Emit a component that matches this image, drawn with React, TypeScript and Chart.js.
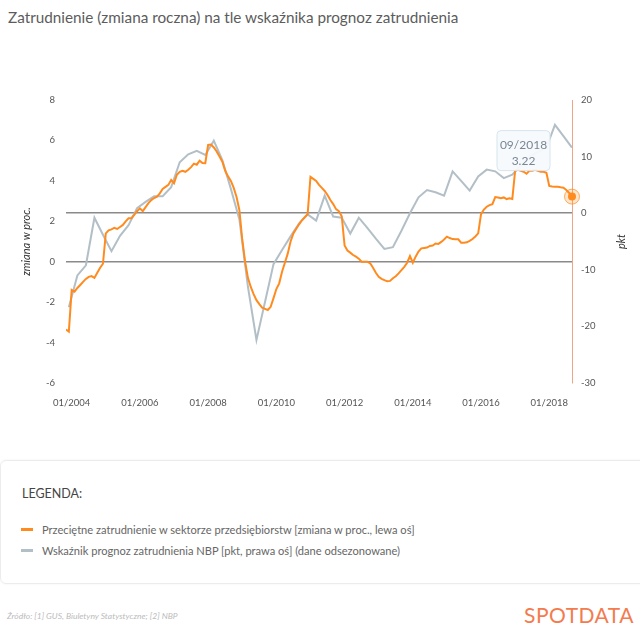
import React, { useEffect, useRef } from 'react';
import { Chart, registerables, Plugin } from 'chart.js';

Chart.register(...registerables);

// miesiące liczone od 01/2004 (0 = 01/2004)
const employmentStart = -2; // 11/2003, dane miesięczne
const employmentChange = [
  -3.35, -3.46,
  -1.4, -1.48, -1.3, -1.15, -1.0, -0.85, -0.75, -0.71, -0.8, -0.55, -0.3, -0.1,
  1.4, 1.55, 1.6, 1.68, 1.62, 1.72, 1.82, 2.0, 2.15, 2.15, 2.32, 2.5,
  2.64, 2.5, 2.7, 2.9, 3.05, 3.15, 3.22, 3.38, 3.6, 3.7, 3.8, 4.04,
  3.88, 4.3, 4.45, 4.5, 4.45, 4.55, 4.68, 4.85, 4.8, 5.0, 4.88, 4.87,
  5.78, 5.8, 5.65, 5.45, 5.2, 4.95, 4.5, 4.22, 4.0, 3.65, 3.2, 2.55,
  1.1, 0.0, -0.8, -1.25, -1.6, -1.9, -2.1, -2.27, -2.33, -2.39, -2.23, -1.8,
  -1.35, -1.07, -0.5, -0.05, 0.4, 1.0, 1.4, 1.63, 1.85, 2.05, 2.2, 2.35,
  4.2, 4.1, 4.0, 3.8, 3.65, 3.5, 3.3, 3.05, 2.85, 2.6, 2.5, 2.25,
  0.8, 0.55, 0.45, 0.33, 0.25, 0.15, 0.0, 0.0, 0.0, -0.08, -0.3, -0.55,
  -0.75, -0.85, -0.91, -0.97, -0.95, -0.82, -0.72, -0.58, -0.42, -0.25, -0.05, 0.28,
  -0.05, 0.25, 0.5, 0.66, 0.68, 0.7, 0.78, 0.8, 0.9, 0.88, 0.98, 1.1,
  1.24, 1.17, 1.12, 1.11, 1.11, 0.94, 0.94, 0.96, 1.03, 1.12, 1.25, 1.4,
  2.35, 2.58, 2.72, 2.8, 2.85, 3.2, 3.18, 3.14, 3.18, 3.1, 3.14, 3.1,
  4.5, 4.55, 4.5, 4.45, 4.35, 4.5, 4.5, 4.55, 4.5, 4.45, 4.45, 4.4,
  3.75, 3.72, 3.71, 3.71, 3.68, 3.66, 3.55, 3.4, 3.22,
];

const forecastStart = -1; // 12/2003, dane kwartalne
const forecastStep = 3;
const forecastIndex = [
  -16.6, -11.0, -9.2, -0.8, -3.8, -6.7, -4.0, -2.1, 0.9, 2.0,
  3.0, 3.0, 4.6, 9.0, 10.4, 11.0, 10.3, 12.8, 9.4, 4.3,
  -1.1, -13.0, -22.4, -15.7, -9.0, -6.5, -4.1, -1.8, -0.2, -1.3,
  3.1, -0.6, -0.8, -3.6, -0.8, -2.6, -4.5, -6.3, -6.0, -3.1,
  0.0, 2.8, 4.1, 3.7, 3.1, 7.4, 5.7, 4.0, 6.5, 7.7,
  7.4, 6.2, 6.8, 8.5, 10.0, 10.8, 11.6, 15.6, 13.6, 11.6,
];

const xTicks = [0, 24, 48, 72, 96, 120, 144, 168];
const xMin = -2;
const xMax = 176;

const ORANGE = '#ff8b1f';
const GRAY = '#b3bfc7';
const FONT = 'Lato, "Open Sans", sans-serif';

const monthLabel = (m: number): string => {
  const total = 2004 * 12 + m;
  const year = Math.floor(total / 12);
  const month = total - year * 12 + 1;
  return `${String(month).padStart(2, '0')}/${year}`;
};

const zeroOnly = (ctx: any) => (ctx.tick && ctx.tick.value === 0 ? '#8a8a8a' : 'rgba(0,0,0,0)');

// podpis prawej osi + "dymek" dla ostatniego punktu
const notePlugin: Plugin<'line'> = {
  id: 'note',
  afterDatasetsDraw(chart) {
    const ctx = chart.ctx;
    const meta = chart.getDatasetMeta(0);
    const last = meta.data[meta.data.length - 1];
    if (!last) return;
    const { x, y } = last;

    ctx.save();
    ctx.beginPath();
    ctx.arc(x, y, 7.5, 0, Math.PI * 2);
    ctx.fillStyle = 'rgba(255,139,31,0.22)';
    ctx.fill();
    ctx.lineWidth = 1;
    ctx.strokeStyle = 'rgba(255,139,31,0.7)';
    ctx.stroke();
    ctx.beginPath();
    ctx.arc(x, y, 4, 0, Math.PI * 2);
    ctx.fillStyle = ORANGE;
    ctx.fill();

    const bw = 53;
    const bh = 40;
    const bx = x - 75;
    const by = y - 66;
    ctx.beginPath();
    ctx.roundRect(bx, by, bw, bh, 4);
    ctx.fillStyle = 'rgba(246,250,253,0.94)';
    ctx.fill();
    ctx.strokeStyle = '#d6e4ef';
    ctx.lineWidth = 1;
    ctx.stroke();

    const lastIdx = employmentChange.length - 1;
    ctx.fillStyle = '#7b8694';
    ctx.font = `12px ${FONT}`;
    ctx.textAlign = 'center';
    ctx.textBaseline = 'middle';
    ctx.fillText(monthLabel(employmentStart + lastIdx), bx + bw / 2, by + 15);
    ctx.fillText(employmentChange[lastIdx].toFixed(2), bx + bw / 2, by + 31);
    ctx.restore();
  },
  afterDraw(chart) {
    const ctx = chart.ctx;
    const s = chart.scales.y2;
    ctx.save();
    ctx.translate(s.left + 49, (chart.chartArea.top + chart.chartArea.bottom) / 2);
    ctx.rotate(-Math.PI / 2);
    ctx.font = `italic 11px ${FONT}`;
    ctx.fillStyle = '#333';
    ctx.textAlign = 'center';
    ctx.textBaseline = 'middle';
    ctx.fillText('pkt', 0, 0);
    ctx.restore();
  },
};

const EmploymentChart: React.FC = () => {
  const canvasRef = useRef<HTMLCanvasElement>(null);

  useEffect(() => {
    if (!canvasRef.current) return;

    const chart = new Chart(canvasRef.current, {
      type: 'line',
      data: {
        datasets: [
          {
            label: 'Przeciętne zatrudnienie',
            data: employmentChange.map((v, i) => ({ x: employmentStart + i, y: v })),
            borderColor: ORANGE,
            borderWidth: 2,
            pointRadius: 0,
            tension: 0,
            yAxisID: 'y',
            order: 0,
          },
          {
            label: 'Wskaźnik prognoz zatrudnienia NBP',
            data: forecastIndex.map((v, i) => ({ x: forecastStart + i * forecastStep, y: v })),
            borderColor: GRAY,
            borderWidth: 2,
            pointRadius: 0,
            tension: 0,
            yAxisID: 'y2',
            order: 1,
          },
        ],
      },
      options: {
        animation: false,
        responsive: true,
        maintainAspectRatio: false,
        events: [],
        layout: { padding: { left: 20, right: 8, top: 20, bottom: 0 } },
        plugins: {
          legend: { display: false },
          tooltip: { enabled: false },
        },
        scales: {
          x: {
            type: 'linear',
            min: xMin,
            max: xMax,
            afterBuildTicks: (scale) => {
              scale.ticks = xTicks.map((value) => ({ value }));
            },
            afterFit: (scale) => {
              scale.height = 27;
            },
            grid: { display: false },
            border: { display: false },
            ticks: {
              autoSkip: false,
              maxRotation: 0,
              padding: 6,
              color: '#555',
              font: { family: FONT, size: 9.5 },
              callback: (value) => monthLabel(Number(value)),
            },
          },
          y: {
            position: 'left',
            min: -6,
            max: 8,
            afterFit: (scale) => {
              scale.width = 46;
            },
            grid: { color: zeroOnly, lineWidth: 1.5, drawTicks: false },
            border: { display: false },
            ticks: {
              stepSize: 2,
              padding: 11,
              color: '#555',
              font: { family: FONT, size: 9.5 },
            },
            title: {
              display: true,
              text: 'zmiana w proc.',
              color: '#333',
              padding: { top: 0, bottom: 0 },
              font: { family: FONT, size: 11, style: 'italic' },
            },
          },
          y2: {
            position: 'right',
            min: -30,
            max: 20,
            afterFit: (scale) => {
              scale.width = 60;
            },
            grid: { color: zeroOnly, lineWidth: 1.5, drawTicks: false },
            border: { display: true, color: '#f2a486', width: 1 },
            ticks: {
              stepSize: 10,
              padding: 9,
              color: '#555',
              font: { family: FONT, size: 9.5 },
            },
          },
        },
      },
      plugins: [notePlugin],
    });

    return () => chart.destroy();
  }, []);

  return <canvas ref={canvasRef}></canvas>;
};

const App: React.FC = () => {
  return (
    <div
      style={{
        position: 'absolute',
        left: 0,
        top: 0,
        width: 640,
        height: 641,
        background: '#fff',
        overflow: 'hidden',
        fontFamily: FONT,
      }}
    >
      {/* Tytuł */}
      <div style={{ position: 'absolute', left: 8, top: 8, fontSize: 15.3, color: '#5c5c5c', whiteSpace: 'nowrap' }}>
        Zatrudnienie (zmiana roczna) na tle wskaźnika prognoz zatrudnienia
      </div>

      {/* Wykres */}
      <div style={{ position: 'absolute', left: 0, top: 80, width: 640, height: 330 }}>
        <EmploymentChart />
      </div>

      {/* Legenda */}
      <div
        style={{
          position: 'absolute',
          left: 0,
          top: 460,
          width: 660,
          height: 124,
          boxSizing: 'border-box',
          border: '1px solid #ececec',
          borderRadius: 6,
          boxShadow: '0 0 3px rgba(0,0,0,0.05)',
        }}
      >
        <div style={{ position: 'absolute', left: 21, top: 25, fontSize: 12.5, color: '#454545' }}>LEGENDA:</div>
        {[
          { color: ORANGE, text: 'Przeciętne zatrudnienie w sektorze przedsiębiorstw [zmiana w proc., lewa oś]', top: 60 },
          { color: GRAY, text: 'Wskaźnik prognoz zatrudnienia NBP [pkt, prawa oś] (dane odsezonowane)', top: 81 },
        ].map((item) => (
          <div key={item.text} style={{ position: 'absolute', left: 20, top: item.top, height: 16, display: 'flex', alignItems: 'center', whiteSpace: 'nowrap' }}>
            <span style={{ display: 'inline-block', width: 12, height: 3, background: item.color, marginRight: 9 }}></span>
            <span style={{ fontSize: 11.1, color: '#666' }}>{item.text}</span>
          </div>
        ))}
      </div>

      {/* Stopka */}
      <div style={{ position: 'absolute', left: 7, top: 611, fontSize: 8.5, fontStyle: 'italic', color: '#bbb', whiteSpace: 'nowrap' }}>
        Źródło: [1] GUS, Biuletyny Statystyczne; [2] NBP
      </div>
      <div style={{ position: 'absolute', left: 524, top: 602, fontSize: 21, color: '#f47b4e', letterSpacing: 0.5, whiteSpace: 'nowrap' }}>
        SPOTDATA
      </div>
    </div>
  );
};

export default App;
